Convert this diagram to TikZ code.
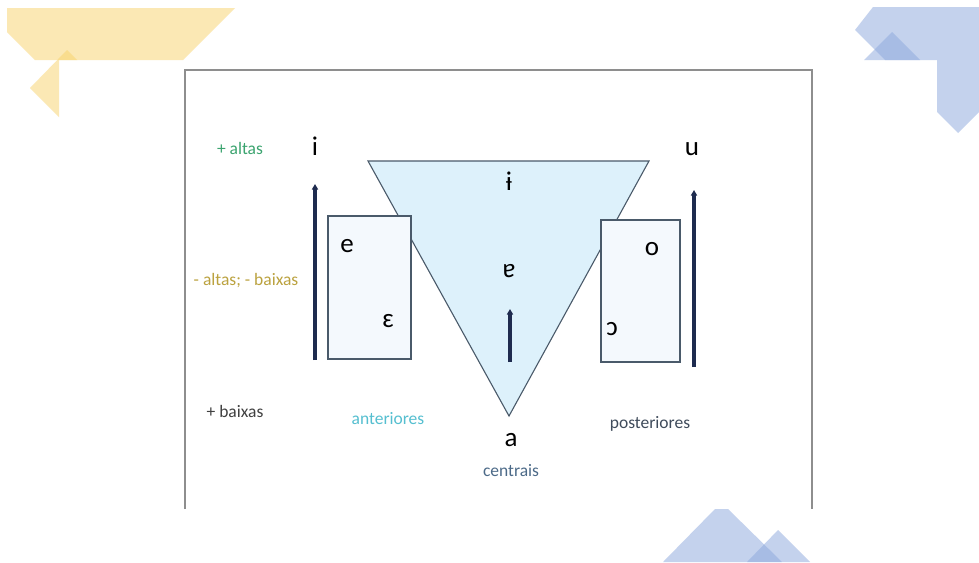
\documentclass[tikz,border=0pt]{standalone}
\usepackage{fontspec,tikz}
\usetikzlibrary{arrows.meta}
\setmainfont{Carlito}
\definecolor{ouro}{HTML}{F9D36A}
\definecolor{azuldeco}{HTML}{8BA7DD}
\definecolor{moldura}{HTML}{8E8E8E}
\definecolor{tricor}{HTML}{DDF1FB}
\definecolor{caixacor}{HTML}{F4F9FD}
\definecolor{borda}{HTML}{4A5A6A}
\definecolor{marinho}{HTML}{1E2B4F}
\definecolor{verde}{HTML}{3BA46F}
\definecolor{oliva}{HTML}{BBA23F}
\definecolor{ciano}{HTML}{55BFD0}
\definecolor{ardosia}{HTML}{3F4B5B}
\definecolor{azulc}{HTML}{4C6A88}

\begin{document}
\begin{tikzpicture}[x=1pt,y=-1pt,
  vogal/.style={anchor=base,inner sep=0pt,font=\fontsize{27}{32}\selectfont},
  rotulo/.style={anchor=base,inner sep=0pt,font=\fontsize{17.5}{21}\selectfont},
  seta/.style={line width=3.5pt,marinho,-{Triangle[width=6pt,length=5.5pt]}},
  caixa/.style={draw=borda,fill=caixacor,line width=1.1pt},
  deco/.style={fill opacity=0.5}]
\path[use as bounding box,fill=white] (0,0) rectangle (979,562);
% cantos decorativos
\fill[ouro,deco] (7,8) -- (235,8) -- (183,60) -- (35,60) -- (7,32) -- cycle;
\fill[ouro,deco] (67,50) -- (77,60) -- (59,60) -- (59,117) -- (30,88) -- cycle;
\fill[azuldeco,deco] (873,7) -- (979,7) -- (979,112) -- (958,133) -- (937,112) -- (937,60) -- (885,60) -- (855,30) -- cycle;
\fill[azuldeco,deco] (892,32) -- (920,60) -- (864,60) -- cycle;
\fill[azuldeco,deco] (663,562) -- (715,509) -- (728,509) -- (782,562) -- cycle;
\fill[azuldeco,deco] (747,562) -- (778,530) -- (810,562) -- cycle;
% moldura
\draw[moldura,line width=1.2pt] (185,509) -- (185,70) -- (812,70) -- (812,509);
% triangulo e caixas
\draw[draw=borda,fill=tricor,line width=1.1pt] (368,161) -- (649,161) -- (509,416) -- cycle;
\draw[caixa] (328,216) rectangle (411,359);
\draw[caixa] (601,220) rectangle (680,362);
% setas
\coordinate (esqbase) at (315,360);
\coordinate (esqtopo) at (315,184);
\coordinate (dirbase) at (694,367);
\coordinate (dirtopo) at (694,190);
\coordinate (cenbase) at (510,362);
\coordinate (centopo) at (510,309);
\draw[seta] (esqbase) -- (esqtopo);
\draw[seta] (dirbase) -- (dirtopo);
\draw[seta] (cenbase) -- (centopo);
% vogais
\node[vogal] (vi) at (315,155) {i};
\node[vogal] (vu) at (692,155) {u};
\node[vogal] (vibar) at (509,190) {ɨ};
\node[vogal] (vturn) at (509,277) {ɐ};
\node[vogal] (ve) at (347,252) {e};
\node[vogal] (veps) at (388,327) {ɛ};
\node[vogal] (vo) at (652,255) {o};
\node[vogal] (vopen) at (612,335) {ɔ};
\node[vogal] (va) at (511,446) {a};
% rotulos
\node[rotulo,verde] (altas) at (240,154) {+ altas};
\node[rotulo,oliva] (medias) at (246,285) {- altas; - baixas};
\node[rotulo,black!75] (baixas) at (235,417) {+ baixas};
\node[rotulo,ciano] (anteriores) at (388,424) {anteriores};
\node[rotulo,ardosia] (posteriores) at (650,428) {posteriores};
\node[rotulo,azulc] (centrais) at (511,476) {centrais};
\end{tikzpicture}
\end{document}
